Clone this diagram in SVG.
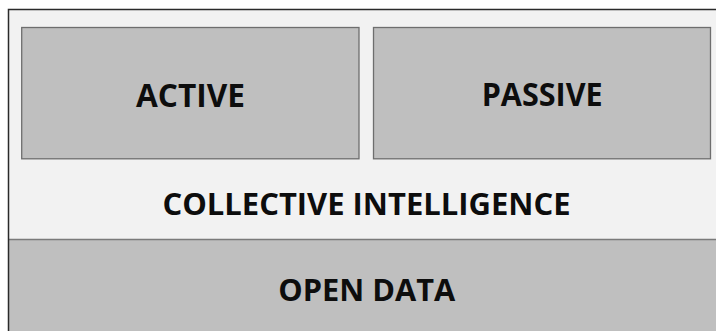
<svg xmlns="http://www.w3.org/2000/svg" width="716" height="331" viewBox="0 0 716 331">
  <style>
    .lbl { font-family: "Open Sans", "Liberation Sans", sans-serif; font-weight: 700; fill: #0d0d0d; text-anchor: middle; }
    .big { font-size: 33px; }
    .mid { font-size: 29.5px; }
    .box { fill: #bfbfbf; stroke: #6e6e6e; stroke-width: 1.3; }
  </style>
  <rect x="0" y="0" width="716" height="331" fill="#ffffff"/>

  <!-- Collective intelligence layer -->
  <g id="collective-intelligence">
    <rect x="8.5" y="9.5" width="720" height="230" fill="#f2f2f2"/>
    <text class="lbl mid" x="366.5" y="215.3" textLength="408" lengthAdjust="spacingAndGlyphs">COLLECTIVE INTELLIGENCE</text>
  </g>

  <!-- Open data layer -->
  <g id="open-data">
    <rect x="8.5" y="239.5" width="720" height="100" fill="#bfbfbf"/>
    <line x1="8.5" y1="239.5" x2="716" y2="239.5" stroke="#7a7a7a" stroke-width="1.5"/>
    <text class="lbl mid" x="366.7" y="300.7" textLength="177" lengthAdjust="spacingAndGlyphs">OPEN DATA</text>
  </g>

  <!-- Outer frame -->
  <path d="M8.5 331 V9.5 H716" fill="none" stroke="#2a2a2a" stroke-width="1.5"/>

  <g id="active">
    <rect class="box" x="21.7" y="27.5" width="337.3" height="131.3"/>
    <text class="lbl big" x="190.5" y="106.6" textLength="109" lengthAdjust="spacingAndGlyphs">ACTIVE</text>
  </g>

  <g id="passive">
    <rect class="box" x="373.5" y="27.5" width="337" height="131.3"/>
    <text class="lbl big" x="542.2" y="106.2" textLength="121" lengthAdjust="spacingAndGlyphs">PASSIVE</text>
  </g>
</svg>
